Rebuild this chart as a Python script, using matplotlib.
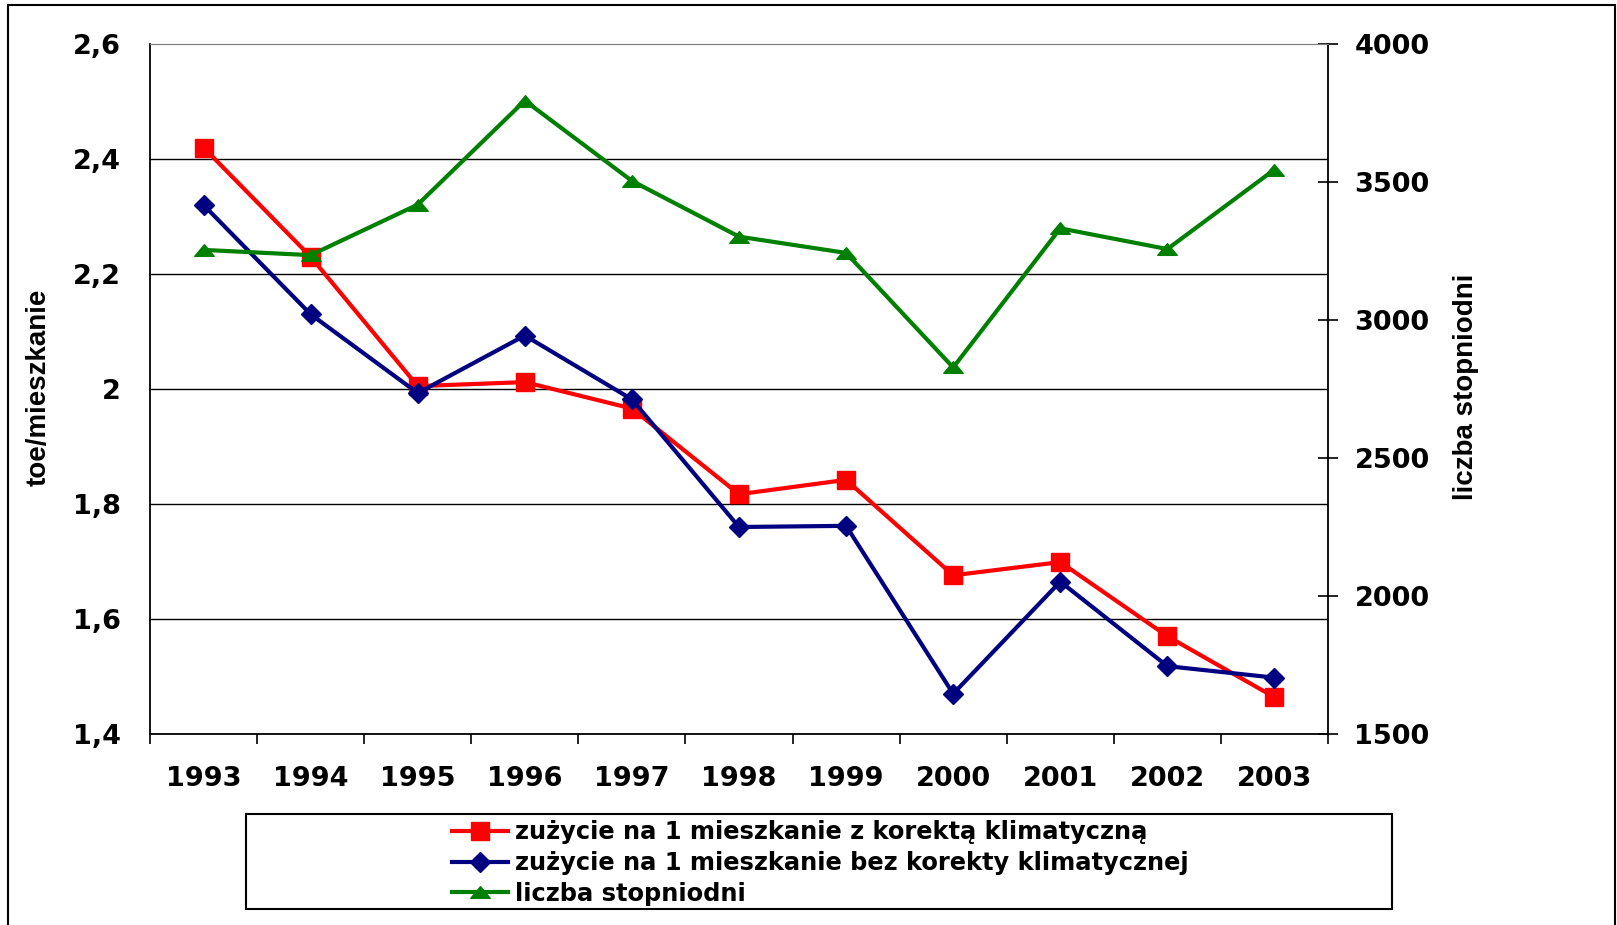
import matplotlib.pyplot as plt
from matplotlib.patches import Rectangle
from matplotlib.path import Path

# data
years = ['1993', '1994', '1995', '1996', '1997', '1998', '1999', '2000', '2001', '2002', '2003']
z_korekta = [2.42, 2.23, 2.005, 2.012, 1.966, 1.817, 1.842, 1.676, 1.699, 1.570, 1.464]
bez_korekty = [2.32, 2.13, 1.993, 2.093, 1.982, 1.760, 1.762, 1.470, 1.665, 1.518, 1.498]
stopniodni = [3254, 3235, 3418, 3795, 3504, 3302, 3243, 2828, 3332, 3257, 3545]

W, H = 1617, 925
fig = plt.figure(figsize=(W / 100, H / 100), dpi=100)

# outer frame
fig.add_artist(Rectangle((8 / W, -0.05), (1615 - 8) / W, 1 - 5 / H + 0.05,
                         transform=fig.transFigure, fill=False, ec='black', lw=1.5))

ax = fig.add_axes([150 / W, 1 - 734 / H, 1178 / W, 690 / H])
ax2 = ax.twinx()

x = list(range(len(years)))
tri = Path([(-1, -0.6), (1, -0.6), (0, 0.6), (-1, -0.6)],
           [Path.MOVETO, Path.LINETO, Path.LINETO, Path.CLOSEPOLY])

l1, = ax.plot(x, z_korekta, color='#ff0000', lw=3, marker='s', ms=13,
              label='zużycie na 1 mieszkanie z korektą klimatyczną')
l2, = ax.plot(x, bez_korekty, color='#000080', lw=3, marker='D', ms=10.5,
              label='zużycie na 1 mieszkanie bez korekty klimatycznej')
l3, = ax2.plot(x, stopniodni, color='#008000', lw=3, marker=tri, ms=14,
               label='liczba stopniodni')

ax.set_xlim(-0.5, 10.5)
ax.set_ylim(1.4, 2.6)
ax2.set_ylim(1500, 4000)

yt = [1.4, 1.6, 1.8, 2.0, 2.2, 2.4, 2.6]
ax.set_yticks(yt)
ax.set_yticklabels(['1,4', '1,6', '1,8', '2', '2,2', '2,4', '2,6'])
ax2.set_yticks([1500, 2000, 2500, 3000, 3500, 4000])

for v in yt[1:-1]:
    ax.axhline(v, color='black', lw=1, zorder=0)

# year labels centered, ticks on category boundaries
ax.set_xticks([i - 0.5 for i in range(12)])
ax.set_xticklabels([])
ax.set_xticks(x, minor=True)
ax.set_xticklabels(years, minor=True)
ax.tick_params(axis='x', which='major', direction='out', length=7, width=1.2)
ax.tick_params(axis='x', which='minor', length=0, pad=23)

bold = dict(family='DejaVu Sans', weight='bold')
for lab in ax.get_xticklabels(minor=True) + ax.get_yticklabels() + ax2.get_yticklabels():
    lab.set_fontproperties(bold)
    lab.set_fontsize(19.5)

ax.tick_params(axis='y', length=0, pad=21)
ax2.tick_params(axis='y', direction='inout', length=14, width=1.2, pad=12)

for sp in ['left', 'bottom']:
    ax.spines[sp].set_linewidth(1.3)
ax.spines['right'].set_visible(False)
ax.spines['top'].set_color('#808080')
ax2.spines['top'].set_color('#808080')
ax2.spines['right'].set_linewidth(1.3)
ax2.spines['left'].set_visible(False)
ax2.spines['bottom'].set_visible(False)

fig.text(39 / W, 1 - 387 / H, 'toe/mieszkanie', rotation=90, ha='center', va='center',
         family='Liberation Sans', weight='bold', fontsize=20)
fig.text(1466 / W, 1 - 387 / H, 'liczba stopniodni', rotation=90, ha='center', va='center',
         family='Liberation Sans', weight='bold', fontsize=20)

# legend box
fig.add_artist(Rectangle((246 / W, 1 - 909 / H), (1392 - 246) / W, (909 - 814) / H,
                         transform=fig.transFigure, fill=False, ec='black', lw=1.5))
fig.legend(handles=[l1, l2, l3], loc='center left', bbox_to_anchor=(452 / W, 1 - 863 / H),
           frameon=False, borderpad=0, borderaxespad=0, handlelength=2.3,
           handletextpad=0.3, labelspacing=0.27,
           prop=dict(family='DejaVu Sans', weight='bold', size=17.4))

fig.savefig('out.png', dpi=100)
